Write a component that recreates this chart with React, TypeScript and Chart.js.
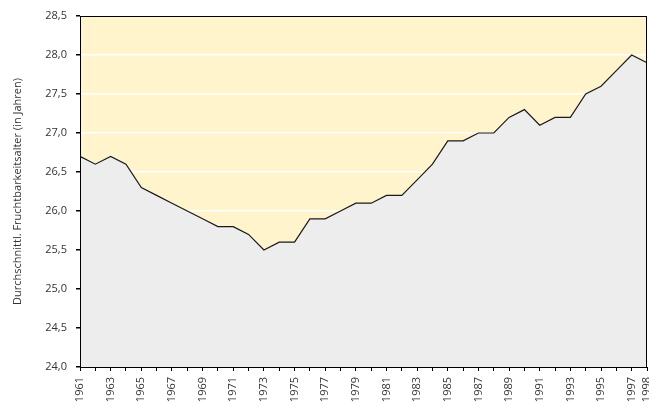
import React, { useEffect, useRef } from "react";
import { Chart, registerables } from "chart.js";

Chart.register(...registerables);

const years: string[] = [
  "1961","1962","1963","1964","1965","1966","1967","1968","1969","1970",
  "1971","1972","1973","1974","1975","1976","1977","1978","1979","1980",
  "1981","1982","1983","1984","1985","1986","1987","1988","1989","1990",
  "1991","1992","1993","1994","1995","1996","1997","1998",
];

const avgAge: number[] = [
  26.7, 26.6, 26.7, 26.6, 26.3, 26.2, 26.1, 26.0, 25.9, 25.8,
  25.8, 25.7, 25.5, 25.6, 25.6, 25.9, 25.9, 26.0, 26.1, 26.1,
  26.2, 26.2, 26.4, 26.6, 26.9, 26.9, 27.0, 27.0, 27.2, 27.3,
  27.1, 27.2, 27.2, 27.5, 27.6, 27.8, 28.0, 27.9,
];

const yMin = 24.0;
const yMax = 28.5;
const yStep = 0.5;
const yTitle = "Durchschnittl. Fruchtbarkeitsalter (in Jahren)";

const FONT = "'Open Sans', 'DejaVu Sans', sans-serif";

const plotFrame = {
  id: "plotFrame",
  beforeDraw(chart: any) {
    const { ctx, chartArea } = chart;
    ctx.save();
    ctx.fillStyle = "#FFF4CC";
    ctx.fillRect(chartArea.left, chartArea.top, chartArea.right - chartArea.left, chartArea.bottom - chartArea.top);
    ctx.restore();
  },
  afterDraw(chart: any) {
    const { ctx, chartArea } = chart;
    ctx.save();
    ctx.strokeStyle = "#000";
    ctx.lineWidth = 1;
    ctx.strokeRect(
      Math.round(chartArea.left) + 0.5,
      Math.round(chartArea.top) + 0.5,
      Math.round(chartArea.right - chartArea.left) - 1,
      Math.round(chartArea.bottom - chartArea.top)
    );
    ctx.restore();
  },
};

export default function App() {
  const ref = useRef<HTMLCanvasElement | null>(null);

  useEffect(() => {
    document.body.style.margin = "0";
    if (!ref.current) return;
    const chart = new Chart(ref.current, {
      type: "line",
      data: {
        labels: years,
        datasets: [
          {
            data: avgAge,
            borderColor: "#1a1a1a",
            borderWidth: 1.2,
            backgroundColor: "#EDEDED",
            fill: "start",
            pointRadius: 0,
            tension: 0,
          },
        ],
      },
      options: {
        animation: false,
        responsive: false,
        maintainAspectRatio: false,
        layout: { padding: { top: 16, right: 2, left: 0, bottom: 0 } },
        plugins: { legend: { display: false }, tooltip: { enabled: false } },
        scales: {
          x: {
            offset: false,
            grid: {
              drawOnChartArea: false,
              drawTicks: true,
              tickLength: 4,
              tickColor: "#000",
            },
            border: { display: true, color: "#000" },
            ticks: {
              autoSkip: false,
              maxRotation: 90,
              minRotation: 90,
              padding: 6,
              color: "#333",
              font: { family: FONT, size: 11 },
              callback: (_v: any, i: number) =>
                i % 2 === 0 || i === years.length - 1 ? years[i] : "",
            },
            afterFit: (s: any) => {
              s.height = 37;
              s.paddingLeft = 0;
              s.paddingRight = 0;
            },
          },
          y: {
            min: yMin,
            max: yMax,
            grid: {
              color: "#FFFFFF",
              lineWidth: 1.5,
              drawTicks: true,
              tickLength: 4,
              tickColor: "#000",
            },
            border: { display: true, color: "#000" },
            ticks: {
              stepSize: yStep,
              padding: 9,
              color: "#333",
              font: { family: FONT, size: 11 },
              callback: (v: any) => Number(v).toFixed(1).replace(".", ","),
            },
            title: {
              display: true,
              text: yTitle,
              color: "#333",
              font: { family: FONT, size: 11 },
              padding: { top: 11, bottom: 0 },
            },
            afterFit: (s: any) => {
              s.width = 80;
            },
          },
        },
      },
      plugins: [plotFrame],
    });
    return () => chart.destroy();
  }, []);

  return (
    <div style={{ position: "absolute", left: 0, top: 0, width: 649, height: 404 }}>
      <canvas ref={ref} width={649} height={404} style={{ width: 649, height: 404 }} />
    </div>
  );
}
